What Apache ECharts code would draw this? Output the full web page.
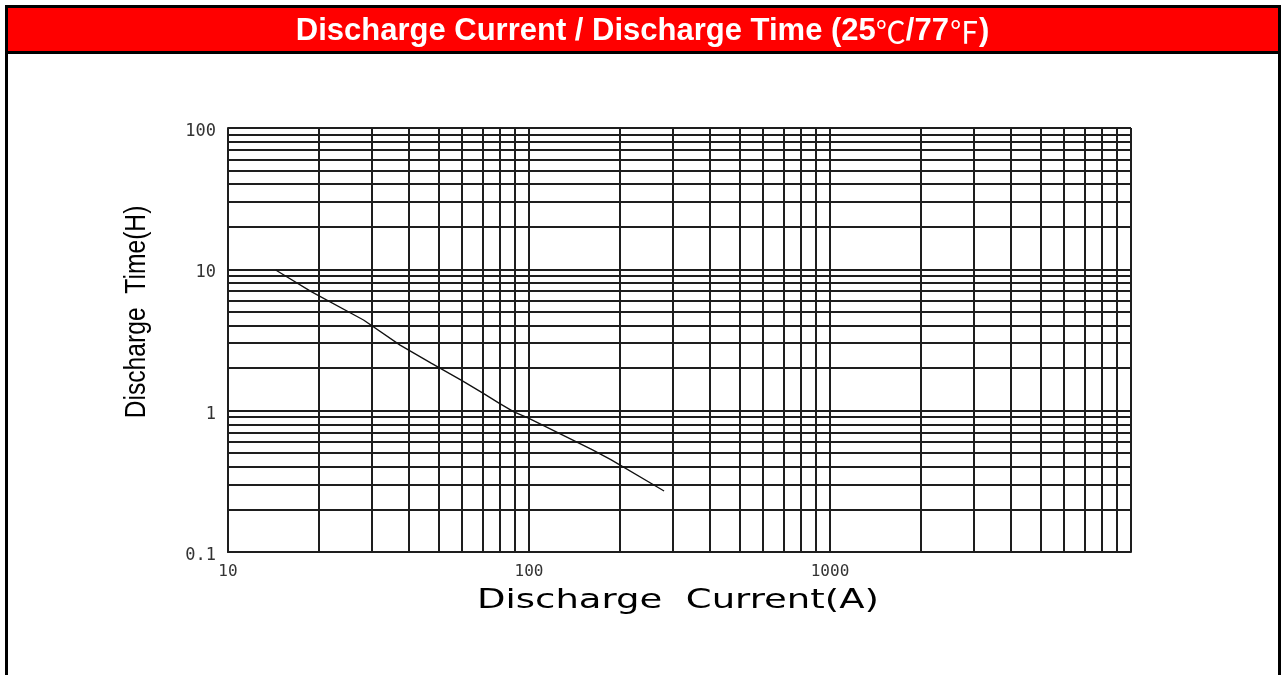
<!DOCTYPE html>
<html>
<head>
<meta charset="utf-8">
<script src="https://cdn.jsdelivr.net/npm/echarts@6/dist/echarts.min.js"></script>
<style>
html,body{margin:0;padding:0;background:#fff;}
#chart{width:1285px;height:675px;}
</style>
</head>
<body>
<div id="chart"></div>
<script>
// ---- data ----
const titleParts = ['Discharge Current / Discharge Time (25', '\u2103', '/77', '\u2109', ')'];
const xAxisName = 'Discharge  Current(A)';
const yAxisName = 'Discharge  Time(H)';
const current = [14.4, 18.9, 28.2, 37.3, 47.3, 59.9, 70.3, 79.5, 89.1, 99.2, 162, 187, 281];
const hours   = [9.9, 6.95, 4.38, 2.91, 2.17, 1.63, 1.33, 1.13, 0.98, 0.89, 0.53, 0.45, 0.27];
const xMinorGrid = [20,30,40,50,60,70,80,90,200,300,400,500,600,700,800,900,2000,3000,4000,5000,6000,7000,8000,9000];
const yMinorGrid = [0.2,0.3,0.4,0.5,0.6,0.7,0.8,0.9,2,3,4,5,6,7,8,9,20,30,40,50,60,70,80,90];
const xTickLabels = ['10','100','1000'];
const yTickLabels = ['0.1','1','10','100'];

const gridColor = '#1e1e1e';
const chart = echarts.init(document.getElementById('chart'), null, {renderer:'canvas'});

function fmt(v){
  const r = Math.round(v*1000)/1000;
  return String(r);
}

const minorLines = [];
xMinorGrid.forEach(v => minorLines.push({xAxis: v}));
yMinorGrid.forEach(v => minorLines.push({yAxis: v}));

const titleRich = '{b|' + titleParts[0] + '}{n|' + titleParts[1] + '}{b|' + titleParts[2] + '}{n|' + titleParts[3] + '}{b|' + titleParts[4] + '}';

chart.setOption({
  animation: false,
  backgroundColor: '#fff',
  title: {
    text: titleRich,
    left: 'center',
    top: 11,
    textStyle: {
      color:'#fff', fontSize: 31, fontWeight:'bold', fontFamily:'Liberation Sans, Arial, sans-serif',
      rich: {
        b: {color:'#fff', fontSize: 31, fontWeight:'bold', fontFamily:'Liberation Sans, Arial, sans-serif'},
        n: {color:'#fff', fontSize: 30, fontWeight:'normal', fontFamily:'Noto Sans CJK SC, sans-serif'}
      }
    }
  },
  grid: {left: 228, right: 154, top: 128, bottom: 123, containLabel: false},
  xAxis: {
    type: 'log', logBase: 10, min: 10, max: 10000,
    axisLine: {show: true, lineStyle: {color: gridColor, width: 2}},
    axisTick: {show: false},
    splitLine: {show: true, lineStyle: {color: gridColor, width: 2}},
    axisLabel: {
      margin: 12, color: '#333', fontSize: 16, fontFamily: 'DejaVu Sans Mono, monospace',
      formatter: v => { const s = fmt(v); return xTickLabels.includes(s) ? s : ''; }
    }
  },
  yAxis: {
    type: 'log', logBase: 10, min: 0.1, max: 100,
    axisLine: {show: true, lineStyle: {color: gridColor, width: 2}},
    axisTick: {show: false},
    splitLine: {show: true, lineStyle: {color: gridColor, width: 2}},
    axisLabel: {
      margin: 12,
      formatter: v => { const s = fmt(v); return yTickLabels.includes(s) ? '{a|' + s + '}' : ''; },
      rich: {
        a: {color: '#333', fontSize: 17, lineHeight: 17, fontFamily: 'DejaVu Sans Mono, monospace', padding: [7, 0, 0, 0]}
      }
    }
  },
  graphic: [
    {type:'rect', z: -1, shape:{x:6.5, y:6.5, width:1273, height:720}, style:{fill:'#fff', stroke:'#000', lineWidth:3}},
    {type:'rect', z: 0, shape:{x:6.5, y:6.5, width:1273, height:46}, style:{fill:'#ff0000', stroke:'#000', lineWidth:3}},
    {type:'text', z: 10, x: 678, y: 601, scaleX: 1.37, scaleY: 1,
     style:{text: xAxisName, align:'center', verticalAlign:'middle', fontSize: 27, fontFamily:'DejaVu Sans, sans-serif', fill:'#000'}},
    {type:'text', z: 10, x: 137, y: 312, rotation: Math.PI/2, scaleX: 0.88, scaleY: 1.05,
     style:{text: yAxisName, align:'center', verticalAlign:'middle', fontSize: 28, fontFamily:'Liberation Sans, Arial, sans-serif', fill:'#000'}}
  ],
  series: [
    {
      type: 'line', name: 'grid', data: [], z: 1, silent: true,
      markLine: {
        silent: true, symbol: ['none','none'], animation: false,
        label: {show: false},
        lineStyle: {color: gridColor, width: 2, type: 'solid'},
        emphasis: {disabled: true},
        data: minorLines
      }
    },
    {
      type: 'line', name: 'Discharge', z: 5,
      data: current.map((c, i) => [c, hours[i]]),
      symbol: 'none', smooth: false,
      lineStyle: {color: '#111', width: 1.3}
    }
  ]
});
</script>
</body>
</html>
